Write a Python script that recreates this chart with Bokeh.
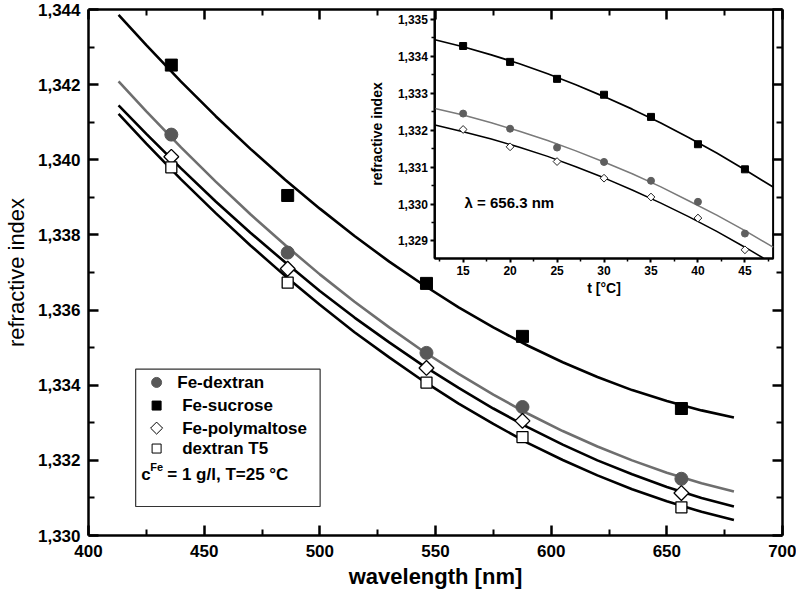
import numpy as np
from bokeh.plotting import figure
from bokeh.models import (Range1d, LinearAxis, FixedTicker, CustomJSTickFormatter, Label)
from bokeh.core.properties import value
from bokeh.embed import file_html
from bokeh.resources import INLINE

# ---------------- data ----------------
wavelengths = [435.8, 486.1, 546.1, 587.6, 656.3]
fe_dextran = [1.34067, 1.33753, 1.33486, 1.33342, 1.33151]
fe_sucrose = [1.34252, 1.33905, 1.33671, 1.33530, 1.33338]
fe_polymaltose = [1.34008, 1.33710, 1.33446, 1.33305, 1.33113]
dextran_t5 = [1.33980, 1.33673, 1.33407, 1.33262, 1.33075]

# fitted curves
fit_nm = [413, 425, 440, 455, 470, 485, 500, 515, 530, 545, 560, 575, 590, 605, 620, 635, 650, 665, 679]
fit_fe_dextran = [1.34209, 1.34129, 1.34033, 1.33942, 1.33855, 1.33773, 1.33695, 1.33622, 1.33554, 1.33489,
                  1.33430, 1.33375, 1.33324, 1.33278, 1.33237, 1.33200, 1.33167, 1.33139, 1.33117]
fit_fe_sucrose = [1.34386, 1.34305, 1.34208, 1.34116, 1.34029, 1.33947, 1.33870, 1.33797, 1.33729, 1.33666,
                  1.33607, 1.33554, 1.33505, 1.33461, 1.33422, 1.33387, 1.33358, 1.33333, 1.33314]
fit_fe_polymaltose = [1.34145, 1.34069, 1.33977, 1.33889, 1.33806, 1.33727, 1.33651, 1.33580, 1.33514, 1.33451,
                      1.33393, 1.33338, 1.33288, 1.33242, 1.33200, 1.33163, 1.33129, 1.33100, 1.33077]
fit_dextran_t5 = [1.34122, 1.34043, 1.33948, 1.33858, 1.33772, 1.33691, 1.33614, 1.33541, 1.33474, 1.33410,
                  1.33351, 1.33297, 1.33246, 1.33201, 1.33160, 1.33123, 1.33091, 1.33063, 1.33041]

# inset: temperature dependence at 656.3 nm
temps = [15, 20, 25, 30, 35, 40, 45]
t_fe_sucrose = [1.33428, 1.33385, 1.33339, 1.33296, 1.33236, 1.33162, 1.33094]
t_fe_dextran = [1.33245, 1.33204, 1.33153, 1.33114, 1.33063, 1.33006, 1.32920]
t_fe_polymaltose = [1.33202, 1.33155, 1.33115, 1.33070, 1.33019, 1.32962, 1.32876]

fit_t = [12, 15, 18, 21, 24, 27, 30, 33, 36, 39, 42, 45, 48]
fit_t_fe_sucrose = [1.33445, 1.33426, 1.33404, 1.33380, 1.33353, 1.33323, 1.33291, 1.33257, 1.33220,
                    1.33180, 1.33138, 1.33093, 1.33046]
fit_t_fe_dextran = [1.33259, 1.33241, 1.33220, 1.33197, 1.33172, 1.33144, 1.33114, 1.33082, 1.33047,
                    1.33009, 1.32970, 1.32928, 1.32883]
fit_t_pm = [12, 15, 18, 21, 24, 27, 30, 33, 36, 39, 42, 45, 47]
fit_t_fe_polymaltose = [1.33214, 1.33196, 1.33176, 1.33154, 1.33129, 1.33101, 1.33071, 1.33038, 1.33003,
                        1.32966, 1.32926, 1.32883, 1.32853]

# ticks
x_ticks = [400, 450, 500, 550, 600, 650, 700]
x_tick_labels = ["400", "450", "500", "550", "600", "650", "700"]
x_minor = [425, 475, 525, 575, 625, 675]
y_ticks = [1.330, 1.332, 1.334, 1.336, 1.338, 1.340, 1.342, 1.344]
y_tick_labels = ["1,330", "1,332", "1,334", "1,336", "1,338", "1,340", "1,342", "1,344"]
y_minor = [1.331, 1.333, 1.335, 1.337, 1.339, 1.341, 1.343]

in_x_ticks = [15, 20, 25, 30, 35, 40, 45]
in_x_tick_labels = ["15", "20", "25", "30", "35", "40", "45"]
in_x_minor = [12.5, 17.5, 22.5, 27.5, 32.5, 37.5, 42.5, 47.5]
in_y_ticks = [1.329, 1.330, 1.331, 1.332, 1.333, 1.334, 1.335]
in_y_tick_labels = ["1,329", "1,330", "1,331", "1,332", "1,333", "1,334", "1,335"]
in_y_minor = [1.3295, 1.3305, 1.3315, 1.3325, 1.3335, 1.3345]

legend_labels = ["Fe-dextran", "Fe-sucrose", "Fe-polymaltose", "dextran T5"]

# ---------------- styling / layout ----------------
FONT = "Liberation Sans"
BLACK = "#000000"
GRAY_LINE = "#6e6e6e"
GRAY_FILL = "#585858"

def fmt(tvals, tlabels):
    return CustomJSTickFormatter(args=dict(tvals=tvals, tlabels=tlabels), code="""
        for (let i = 0; i < tvals.length; i++) {
            if (Math.abs(tvals[i] - tick) < 1e-7) { return tlabels[i]; }
        }
        return "";
    """)

p = figure(width=796, height=592, x_range=Range1d(400, 700), y_range=Range1d(1.330, 1.344),
           output_backend="svg", toolbar_location=None,
           min_border_left=86, min_border_right=14, min_border_top=9, min_border_bottom=57)
p.outline_line_color = None
p.xgrid.visible = False
p.ygrid.visible = False
p.background_fill_color = "white"
p.border_fill_color = "white"

def style_axis(ax, labels=True):
    ax.axis_line_width = 2.5
    ax.axis_line_color = BLACK
    ax.major_tick_line_width = 2.5
    ax.minor_tick_line_width = 2
    ax.major_tick_in = 10
    ax.major_tick_out = 0
    ax.minor_tick_in = 6
    ax.minor_tick_out = 0
    ax.major_label_text_font = FONT
    ax.major_label_text_font_style = "bold"
    if labels:
        ax.major_label_text_font_size = "17px"
        ax.major_label_text_color = BLACK
    else:
        ax.major_label_text_color = None
        ax.major_label_standoff = 0

xax = p.xaxis[0]
xax.ticker = FixedTicker(ticks=x_ticks, minor_ticks=x_minor)
xax.formatter = fmt(x_ticks, x_tick_labels)
style_axis(xax)
xax.major_label_standoff = 9
xax.axis_label = "wavelength [nm]"
xax.axis_label_text_font = FONT
xax.axis_label_text_font_style = "bold"
xax.axis_label_text_font_size = "22px"
xax.axis_label_text_color = BLACK
xax.axis_label_standoff = 4

yax = p.yaxis[0]
yax.ticker = FixedTicker(ticks=y_ticks, minor_ticks=y_minor)
yax.formatter = fmt(y_ticks, y_tick_labels)
style_axis(yax)
yax.major_label_standoff = 8
yax.axis_label = "refractive index"
yax.axis_label_text_font = FONT
yax.axis_label_text_font_style = "normal"
yax.axis_label_text_font_size = "22px"
yax.axis_label_text_color = BLACK
yax.axis_label_standoff = 6

top_ax = LinearAxis(ticker=FixedTicker(ticks=x_ticks, minor_ticks=x_minor))
style_axis(top_ax, labels=False)
p.add_layout(top_ax, "above")
right_ax = LinearAxis(ticker=FixedTicker(ticks=y_ticks, minor_ticks=y_minor))
style_axis(right_ax, labels=False)
p.add_layout(right_ax, "right")

# helpers: reference pixel position -> main data coordinates (for the legend box)
def nm_at(px):
    return 400 + (px - 86) / 2.32

def ri_at(py):
    return 1.344 - (py - 5) / 37850.0

# ---------------- main curves & points ----------------
p.line(fit_nm, fit_fe_sucrose, line_color=BLACK, line_width=2.6)
p.line(fit_nm, fit_fe_dextran, line_color=GRAY_LINE, line_width=2.6)
p.line(fit_nm, fit_fe_polymaltose, line_color=BLACK, line_width=2.6)
p.line(fit_nm, fit_dextran_t5, line_color=BLACK, line_width=2.6)

p.scatter(wavelengths, fe_dextran, marker="circle", size=13, fill_color=GRAY_FILL, line_color=GRAY_FILL)
p.scatter(wavelengths, fe_sucrose, marker="square", size=12, fill_color=BLACK, line_color=BLACK)
p.scatter(wavelengths, fe_polymaltose, marker="square", angle=np.pi / 4, size=10.5,
          fill_color="white", line_color=BLACK, line_width=1.3)
p.scatter(wavelengths, dextran_t5, marker="square", size=11, fill_color="white",
          line_color=BLACK, line_width=1.3)

# ---------------- legend box ----------------
p.quad(left=[nm_at(133.3)], right=[nm_at(318.3)], top=[ri_at(367.3)], bottom=[ri_at(505.7)],
       fill_color="white", line_color="#333333", line_width=1.2)
row_py = [380.7, 404.0, 426.7, 447.3]
mx = nm_at(154.3)
p.scatter([mx], [ri_at(row_py[0])], marker="circle", size=10, fill_color=GRAY_FILL, line_color=GRAY_FILL)
p.scatter([mx], [ri_at(row_py[1])], marker="square", size=9, fill_color=BLACK, line_color=BLACK)
p.scatter([mx], [ri_at(row_py[2])], marker="square", angle=np.pi / 4, size=8.5, fill_color="white",
          line_color=BLACK, line_width=1)
p.scatter([mx], [ri_at(row_py[3])], marker="square", size=9, fill_color="white", line_color=BLACK,
          line_width=1)
p.text(x=[nm_at(175), nm_at(180), nm_at(180), nm_at(180)], y=[ri_at(v) for v in row_py],
       text=legend_labels, text_font=value(FONT), text_font_style="bold", text_font_size="17px",
       text_baseline="middle", text_align="left", text_color=BLACK)
p.text(x=[nm_at(139)], y=[ri_at(473.5)], text=["c"], text_font=value(FONT), text_font_style="bold",
       text_font_size="17px", text_baseline="middle", text_color=BLACK)
p.text(x=[nm_at(148)], y=[ri_at(465.5)], text=["Fe"], text_font=value(FONT), text_font_style="bold",
       text_font_size="11px", text_baseline="middle", text_color=BLACK)
p.text(x=[nm_at(165)], y=[ri_at(473.5)], text=["= 1 g/l, T=25 °C"], text_font=value(FONT),
       text_font_style="bold", text_font_size="17px", text_baseline="middle", text_color=BLACK)

# ---------------- inset (own ranges inside the same frame) ----------------
IN_LEFT, IN_RIGHT = 12.0, 48.0
IN_BOTTOM, IN_TOP = 1.328522, 1.335269
p.extra_x_ranges = {"ix": Range1d(-24.88, 49.0)}
p.extra_y_ranges = {"iy": Range1d(1.321022, IN_TOP)}

p.quad(left=[IN_LEFT], right=[IN_RIGHT], bottom=[IN_BOTTOM], top=[IN_TOP],
       x_range_name="ix", y_range_name="iy", fill_color="white", line_color=BLACK, line_width=2)

p.line(fit_t, fit_t_fe_sucrose, x_range_name="ix", y_range_name="iy", line_color=BLACK, line_width=1.7)
p.line(fit_t, fit_t_fe_dextran, x_range_name="ix", y_range_name="iy", line_color="#7a7a7a", line_width=1.5)
p.line(fit_t_pm, fit_t_fe_polymaltose, x_range_name="ix", y_range_name="iy", line_color=BLACK, line_width=1.5)

p.scatter(temps, t_fe_sucrose, x_range_name="ix", y_range_name="iy", marker="square", size=7,
          fill_color=BLACK, line_color=BLACK)
p.scatter(temps, t_fe_dextran, x_range_name="ix", y_range_name="iy", marker="circle", size=7,
          fill_color="#5e5e5e", line_color="#5e5e5e")
p.scatter(temps, t_fe_polymaltose, x_range_name="ix", y_range_name="iy", marker="square",
          angle=np.pi / 4, size=5.5, fill_color="white", line_color="#222222", line_width=1)

def style_inset_axis(ax):
    ax.axis_line_width = 2
    ax.axis_line_color = BLACK
    ax.major_tick_line_width = 2
    ax.minor_tick_line_width = 1.5
    ax.major_tick_in = 0
    ax.major_tick_out = 4
    ax.minor_tick_in = 0
    ax.minor_tick_out = 3
    ax.major_label_text_font = FONT
    ax.major_label_text_font_style = "bold"
    ax.major_label_text_font_size = "12px"
    ax.major_label_text_color = BLACK
    ax.axis_label_text_font = FONT
    ax.axis_label_text_font_style = "bold"
    ax.axis_label_text_font_size = "14px"
    ax.axis_label_text_color = BLACK

in_yax = LinearAxis(x_range_name="ix", y_range_name="iy", fixed_location=IN_LEFT,
                    bounds=(IN_BOTTOM, IN_TOP),
                    ticker=FixedTicker(ticks=in_y_ticks, minor_ticks=in_y_minor),
                    formatter=fmt(in_y_ticks, in_y_tick_labels), axis_label="refractive index")
style_inset_axis(in_yax)
in_yax.major_label_standoff = 3
in_yax.axis_label_standoff = 9
p.add_layout(in_yax, "left")

in_xax = LinearAxis(x_range_name="ix", y_range_name="iy", fixed_location=IN_BOTTOM,
                    bounds=(IN_LEFT, IN_RIGHT),
                    ticker=FixedTicker(ticks=in_x_ticks, minor_ticks=in_x_minor),
                    formatter=fmt(in_x_ticks, in_x_tick_labels), axis_label="t [°C]")
style_inset_axis(in_xax)
in_xax.major_label_standoff = 3
in_xax.axis_label_standoff = 2
p.add_layout(in_xax, "below")

p.add_layout(Label(x=15.15, y=1.33003, x_range_name="ix", y_range_name="iy", text="λ = 656.3 nm",
                   text_font=FONT, text_font_style="bold", text_font_size="15px",
                   text_baseline="middle", text_align="left", text_color=BLACK))

open("out.html", "w").write(file_html(p, INLINE))
